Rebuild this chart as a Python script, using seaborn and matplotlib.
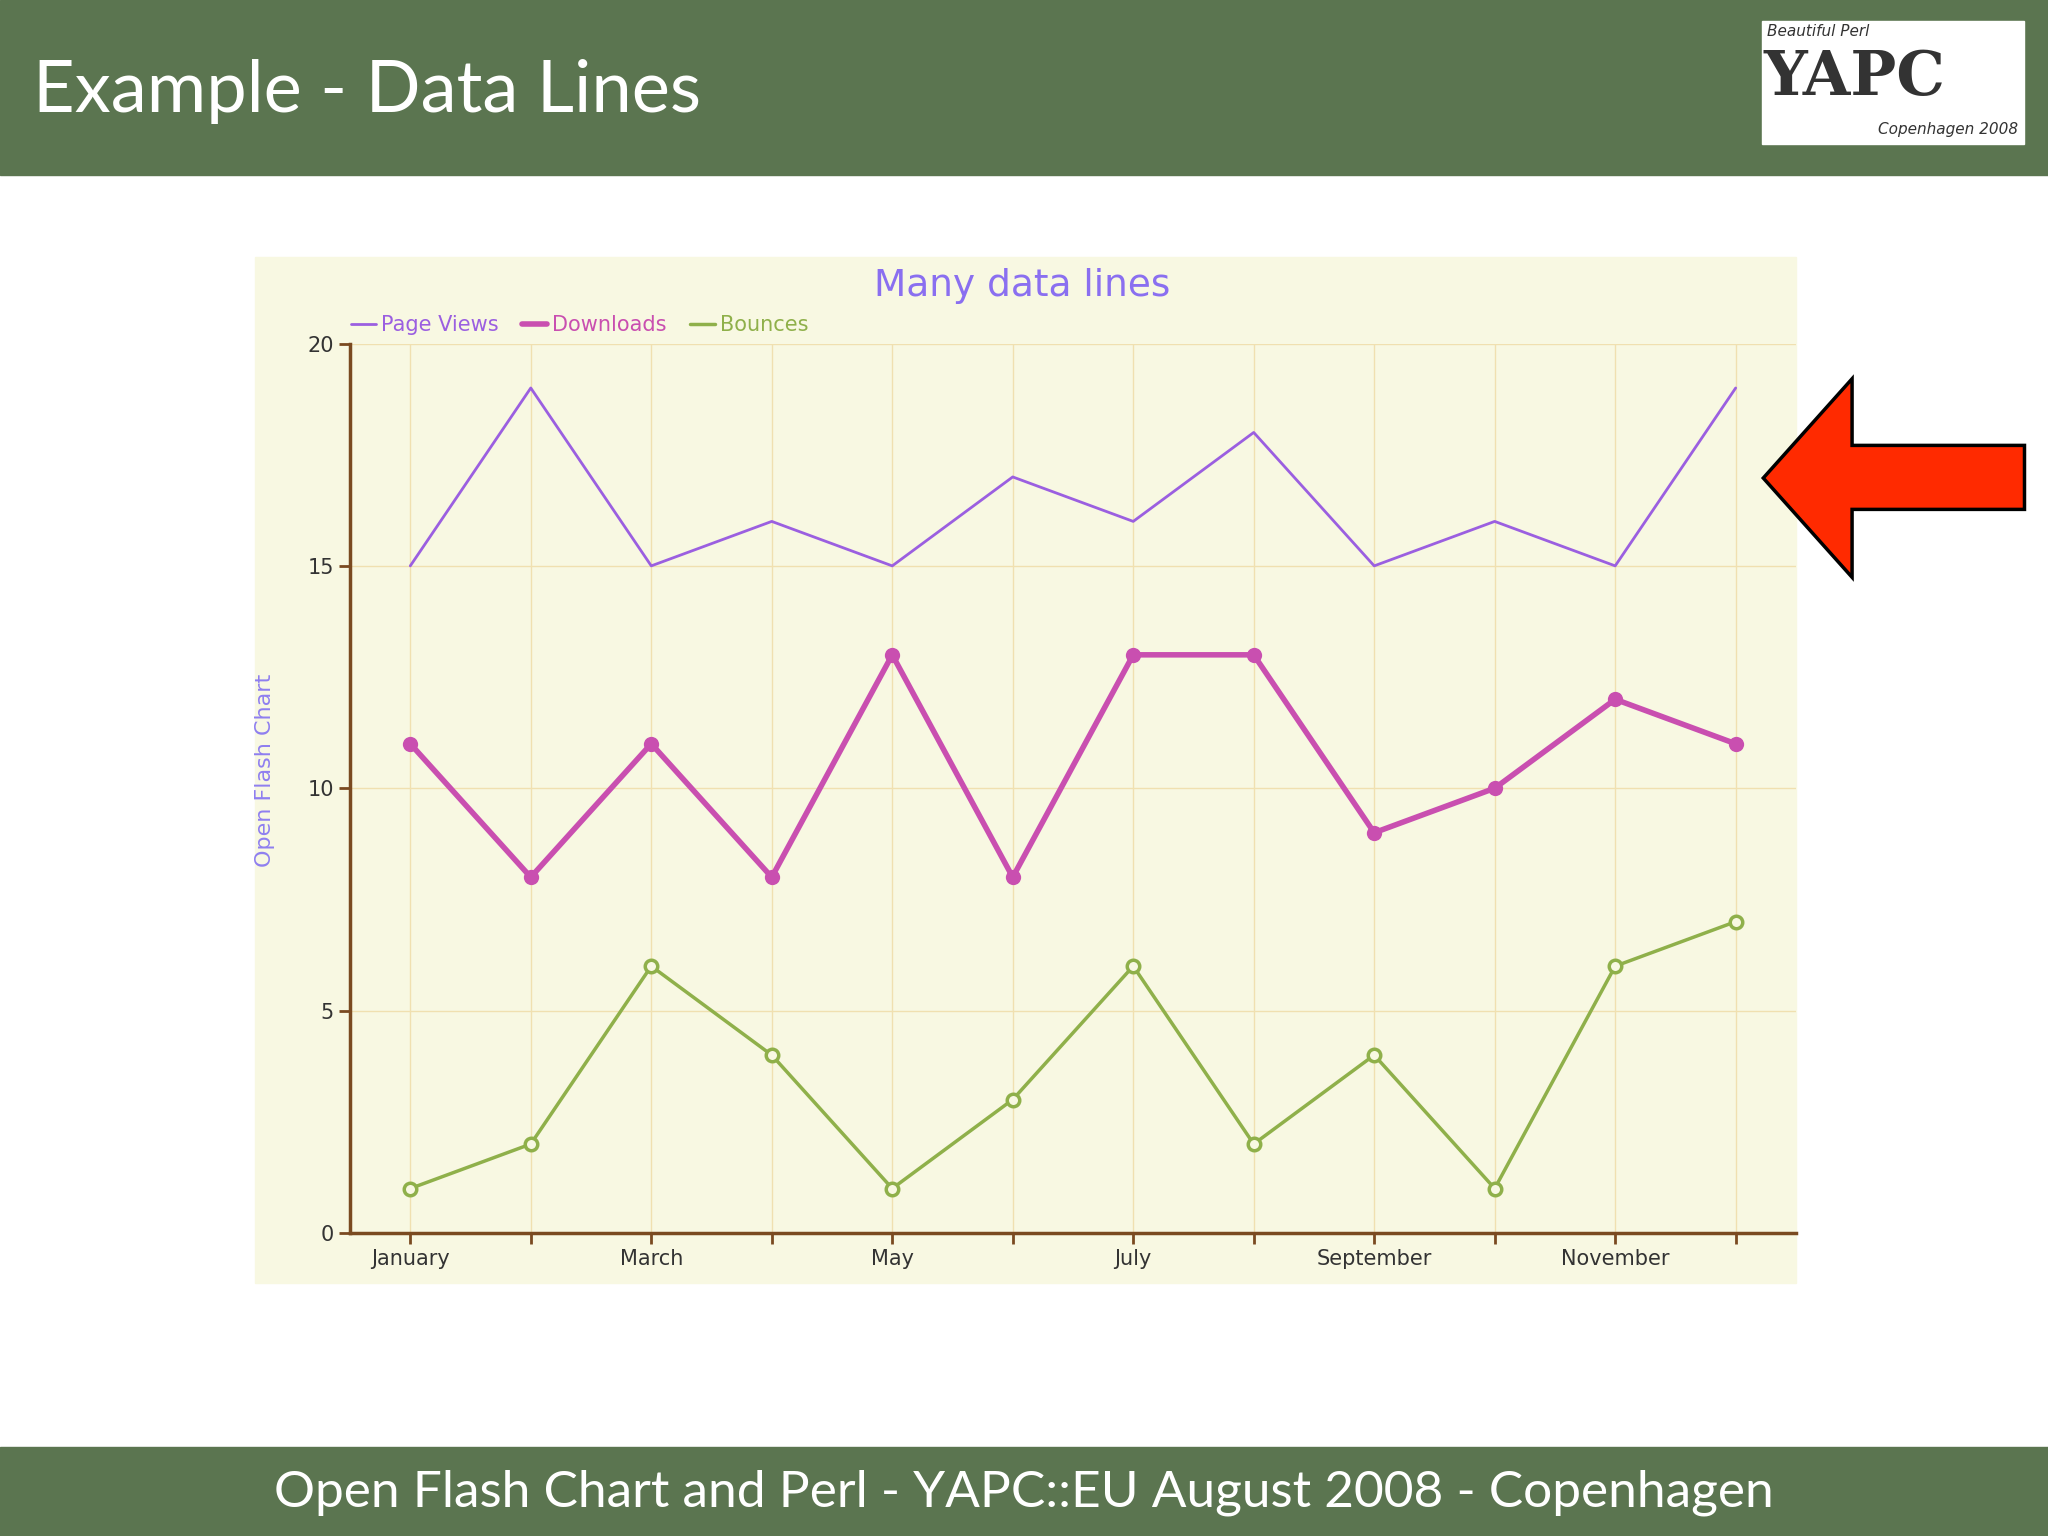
import matplotlib
matplotlib.use("Agg")
import matplotlib.pyplot as plt
import seaborn as sns
import pandas as pd
from matplotlib.patches import Rectangle, Polygon

months = ["January","February","March","April","May","June","July","August","September","October","November","December"]
page_views = [15,19,15,16,15,17,16,18,15,16,15,19]
downloads = [11,8,11,8,13,8,13,13,9,10,12,11]
bounces = [1,2,6,4,1,3,6,2,4,1,6,7]
tick_labels = ["January","","March","","May","","July","","September","","November",""]

sns.set_theme(style="white")
plt.rcParams['font.family'] = ['DejaVu Sans']

W, H = 1568, 1176
fig = plt.figure(figsize=(20.48, 15.36), dpi=100)
fig.patch.set_facecolor("white")
def fx(x): return x / W
def fy(y): return 1 - y / H

green = "#5b7550"
fig.patches.append(Rectangle((0, fy(134)), 1, 134 / H, transform=fig.transFigure, color=green, zorder=-5))
fig.patches.append(Rectangle((0, 0), 1, 68 / H, transform=fig.transFigure, color=green, zorder=-5))
fig.text(fx(25), fy(70), "Example - Data Lines", color="white", fontsize=52, va="center", family="Lato")
fig.text(0.5, fy(1143), "Open Flash Chart and Perl - YAPC::EU August 2008 - Copenhagen",
         color="white", fontsize=37, ha="center", va="center", family="Lato")
# logo
fig.patches.append(Rectangle((fx(1349), fy(110)), 201 / W, 94 / H, transform=fig.transFigure, color="white", zorder=-4))
fig.text(fx(1353), fy(24), "Beautiful Perl", color="#333", fontsize=11, style="italic", va="center", zorder=2)
fig.text(fx(1350), fy(60), "YAPC", color="#333", fontsize=44, weight="bold", va="center", zorder=2, family="DejaVu Serif")
fig.text(fx(1545), fy(99), "Copenhagen 2008", color="#333", fontsize=11, style="italic", ha="right", va="center", zorder=2)

# chart panel
fig.patches.append(Rectangle((fx(195), fy(982)), (1375 - 195) / W, (982 - 197) / H,
                             transform=fig.transFigure, color="#f8f8e2", zorder=-4))

# arrow
pts = [(1350, 366), (1418, 290), (1418, 341), (1550, 341), (1550, 390), (1418, 390), (1418, 442)]
fig.patches.append(Polygon([(fx(x), fy(y)) for x, y in pts], closed=True, transform=fig.transFigure,
                           facecolor="#ff2a00", edgecolor="black", lw=2.5, zorder=3))

ax = fig.add_axes([fx(268), fy(944), (1375 - 268) / W, (944 - 263) / H])
ax.set_zorder(1)
ax.set_facecolor("none")
x = list(range(12))
df = pd.DataFrame({"x": x, "pv": page_views, "dl": downloads, "b": bounces})
sns.lineplot(data=df, x="x", y="pv", ax=ax, color="#9b5fe0", lw=2, label="Page Views")
sns.lineplot(data=df, x="x", y="dl", ax=ax, color="#c94fb0", lw=4, marker="o", markersize=11,
             markeredgewidth=0, label="Downloads")
sns.lineplot(data=df, x="x", y="b", ax=ax, color="#8fb04a", lw=2.5, marker="o", markersize=9,
             markerfacecolor="#f8f8e2", markeredgecolor="#8fb04a", markeredgewidth=2.5, label="Bounces")
ax.set_xlim(-0.5, 11.5)
ax.set_ylim(0, 20)
ax.set_xticks(x)
ax.set_xticklabels(tick_labels, fontsize=15, color="#333")
ax.set_yticks([0, 5, 10, 15, 20])
ax.set_yticklabels(["0", "5", "10", "15", "20"], fontsize=15, color="#333")
ax.grid(True, color="#f0e0b0", lw=1)
for s in ["top", "right"]:
    ax.spines[s].set_visible(False)
for s in ["left", "bottom"]:
    ax.spines[s].set_color("#7a4a20")
    ax.spines[s].set_linewidth(2.5)
ax.tick_params(axis="both", direction="out", length=8, width=2, color="#7a4a20", bottom=True, left=True)
ax.set_xlabel("")
ax.set_ylabel("Open Flash Chart", color="#8f7ff0", fontsize=16)
ax.yaxis.set_label_coords(-0.052, 0.52)
ax.set_title("Many data lines", color="#8a6ff0", fontsize=27, pad=34, x=0.465)
leg = ax.legend(loc="lower left", bbox_to_anchor=(-0.005, 1.0), ncol=3, frameon=False,
                fontsize=15, handlelength=1.2, handletextpad=0.25, columnspacing=1.1, borderaxespad=0)
for t, c in zip(leg.get_texts(), ["#9b5fe0", "#c94fb0", "#8fb04a"]):
    t.set_color(c)
for h in leg.legend_handles:
    h.set_marker("")

fig.savefig("out.png", dpi=100)
